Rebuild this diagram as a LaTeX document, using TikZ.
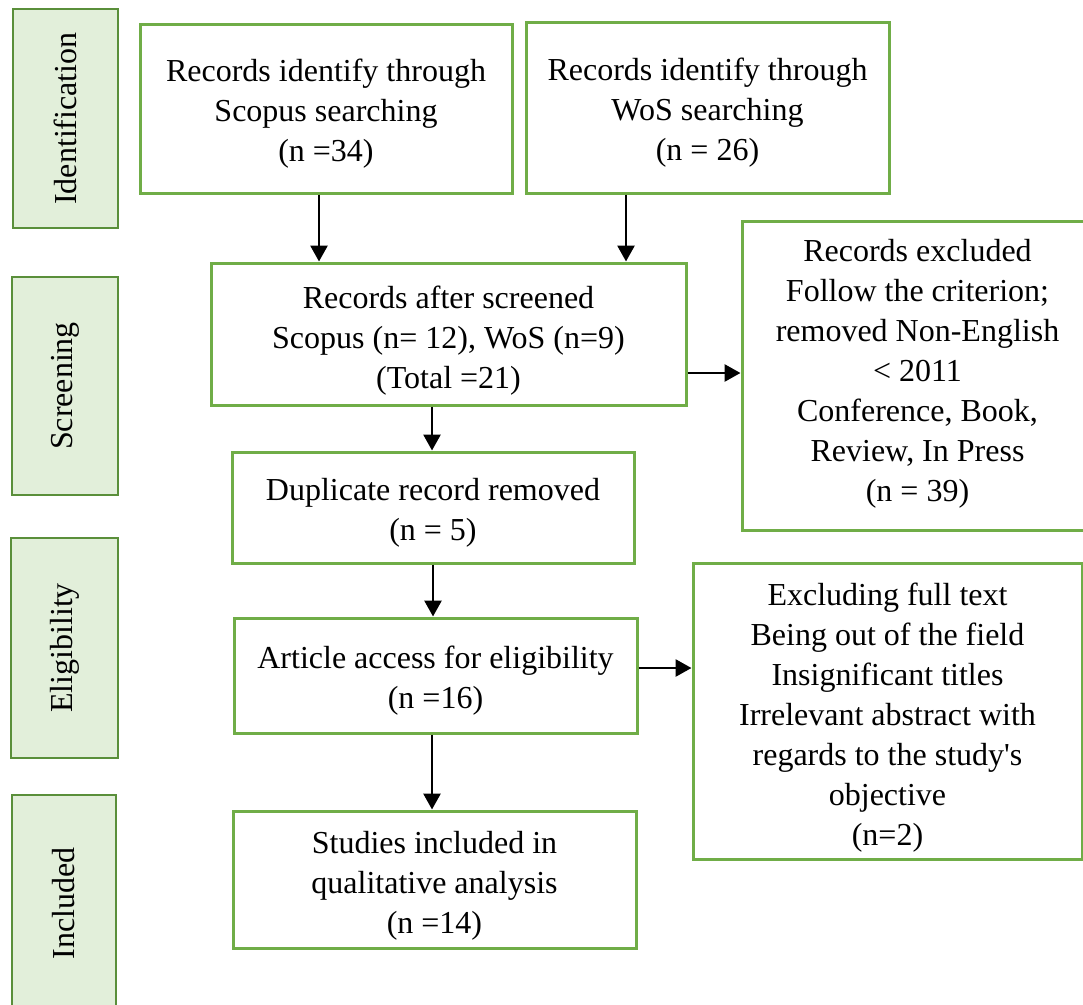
\documentclass[tikz,border=0pt]{standalone}
\usepackage{fontspec}
\setmainfont{Liberation Serif}
\usetikzlibrary{arrows.meta}
\definecolor{boxgreen}{HTML}{70AD47}
\definecolor{barfill}{HTML}{E2EFDA}
\definecolor{barline}{HTML}{5A8F3A}
\begin{document}
\begin{tikzpicture}[x=1pt,y=-1pt,
  txt/.style={font=\fontsize{32}{40}\selectfont, align=center, inner sep=0pt},
  flowbox/.style={draw=boxgreen, line width=3pt, fill=white, inner sep=0pt},
  phasebar/.style={draw=barline, line width=2pt, fill=barfill, inner sep=0pt},
  arr/.style={line width=2.8pt, -{Triangle[length=16pt,width=17pt]}}]
\useasboundingbox (0,0) rectangle (1083,1004);
% phase bars
\node[phasebar, minimum width=105pt, minimum height=219pt] (idl) at (65.5,118.5) {};
\node[txt, rotate=90] (idlT) at (idl.center) {Identification};
\node[phasebar, minimum width=106pt, minimum height=218pt] (scl) at (65,386) {};
\node[txt, rotate=90] (sclT) at (scl.center) {Screening};
\node[phasebar, minimum width=107pt, minimum height=220pt] (ell) at (64.5,648) {};
\node[txt, rotate=90] (ellT) at (ell.center) {Eligibility};
\node[phasebar, minimum width=104pt, minimum height=217pt] (inl) at (64,903.5) {};
\node[txt, rotate=90] (inlT) at (inl.center) {Included};
% flow boxes
\node[flowbox, minimum width=372pt, minimum height=169pt] (sco) at (326,108.5) {};
\node[txt] (scoT) at ([yshift=-5pt]sco.center)
  {Records identify through\\Scopus searching\\(n =34)};
\node[flowbox, minimum width=363pt, minimum height=171pt] (wos) at (707.5,107.5) {};
\node[txt] (wosT) at ([yshift=-5pt]wos.center)
  {Records identify through\\WoS searching\\(n = 26)};
\node[flowbox, minimum width=475pt, minimum height=142pt] (scr) at (448.5,334) {};
\node[txt] (scrT) at ([yshift=-7pt]scr.center)
  {Records after screened\\Scopus (n= 12), WoS (n=9)\\(Total =21)};
\node[flowbox, minimum width=351pt, minimum height=309pt] (ex1) at (917.5,375.5) {};
\node[txt] (ex1T) at ([yshift=2pt]ex1.center)
  {Records excluded\\Follow the criterion;\\removed Non-English\\< 2011\\Conference, Book,\\Review, In Press\\(n = 39)};
\node[flowbox, minimum width=402pt, minimum height=111pt] (dup) at (433,507.5) {};
\node[txt] (dupT) at ([yshift=-5pt]dup.center)
  {Duplicate record removed\\(n = 5)};
\node[flowbox, minimum width=403pt, minimum height=115pt] (art) at (435.5,675.5) {};
\node[txt] (artT) at ([yshift=-5pt]art.center)
  {Article access for eligibility\\(n =16)};
\node[flowbox, minimum width=389pt, minimum height=296pt] (ex2) at (887.5,711) {};
\node[txt] (ex2T) at ([yshift=-7pt]ex2.center)
  {Excluding full text\\Being out of the field\\Insignificant titles\\Irrelevant abstract with\\regards to the study\textquotesingle s\\objective\\(n=2)};
\node[flowbox, minimum width=403pt, minimum height=137pt] (inc) at (434.5,879.5) {};
\node[txt] (incT) at ([yshift=-6pt]inc.center)
  {Studies included in\\qualitative analysis\\(n =14)};
% connectors
\coordinate (p1) at ([xshift=-7pt]sco.south);
\draw[arr] (p1) -- (p1 |- scr.north);
\coordinate (p2) at ([xshift=-81.5pt]wos.south);
\draw[arr] (p2) -- (p2 |- scr.north);
\coordinate (p3) at ([yshift=-39pt]scr.east);
\draw[arr] (p3) -- (p3 -| ex1.west);
\coordinate (p4) at ([xshift=-16.5pt]scr.south);
\draw[arr] (p4) -- (p4 |- dup.north);
\draw[arr] (dup.south) -- (dup.south |- art.north);
\coordinate (p5) at ([yshift=7.5pt]art.east);
\draw[arr] (p5) -- (p5 -| ex2.west);
\coordinate (p6) at ([xshift=-3.5pt]art.south);
\draw[arr] (p6) -- (p6 |- inc.north);
\end{tikzpicture}
\end{document}
